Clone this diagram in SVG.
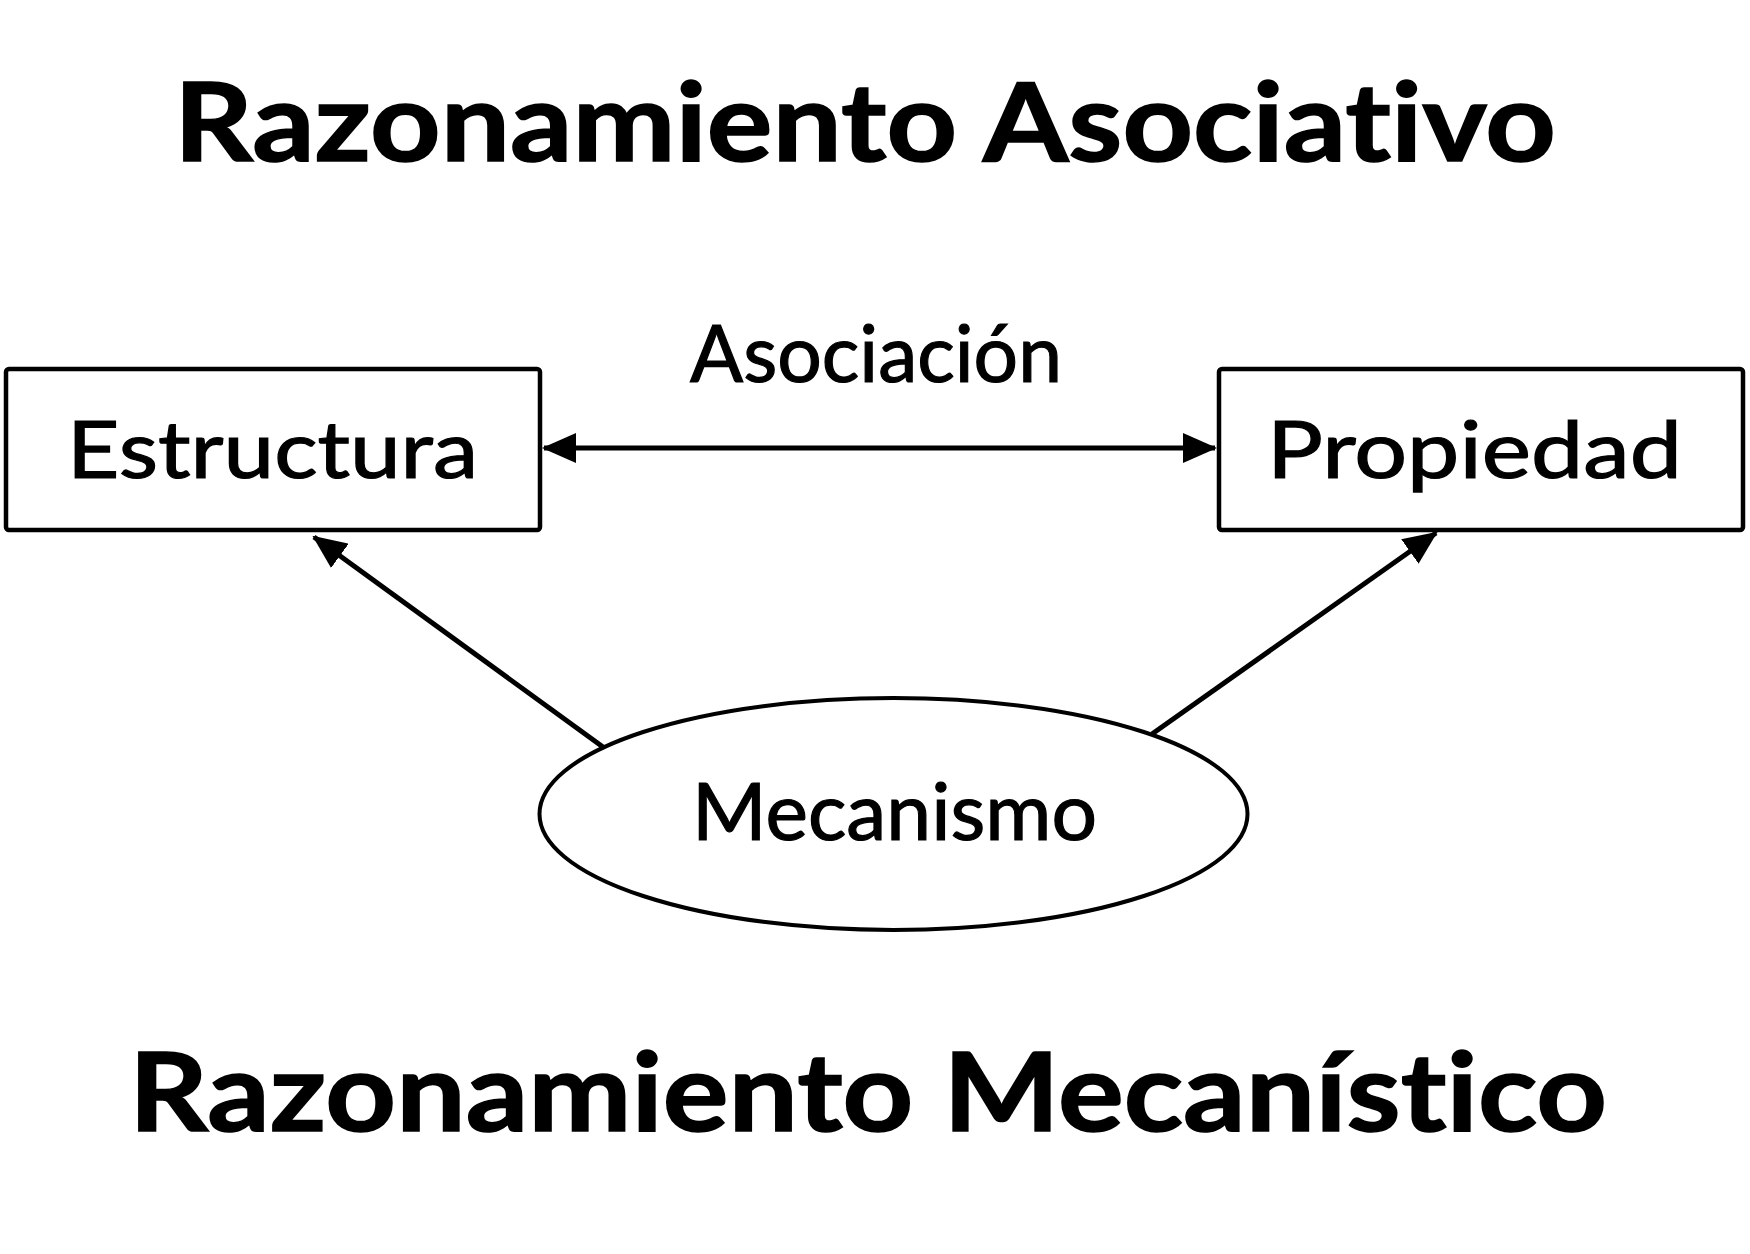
<svg xmlns="http://www.w3.org/2000/svg" width="1750" height="1254" viewBox="0 0 1750 1254">
  <style>
    text { font-variant-ligatures: none; font-feature-settings: "liga" 0, "dlig" 0; }
    .title { font-family: Lato, "Liberation Sans", sans-serif; font-weight: bold; font-size: 110px; fill: #000; stroke: #000; stroke-width: 1.5; }
    .label { font-family: Lato, "Liberation Sans", sans-serif; font-size: 80px; fill: #000; stroke: #000; stroke-width: 1.2; }
    .node { fill: #fff; stroke: #000; stroke-width: 4.5; }
    .conn { fill: none; stroke: #000; stroke-width: 5; }
  </style>
  <defs>
    <marker id="arrow" markerUnits="userSpaceOnUse" markerWidth="34" markerHeight="30" refX="32" refY="15" orient="auto-start-reverse">
      <path d="M0,0 L34,15 L0,30 z" fill="#000"/>
    </marker>
  </defs>
  <rect width="1750" height="1254" fill="#fff"/>

  <text class="title" x="174" y="161" textLength="1382" lengthAdjust="spacingAndGlyphs">Razonamiento Asociativo</text>

  <g id="estructura">
    <rect class="node" x="6" y="369" width="534" height="161" rx="3"/>
    <text class="label" x="67" y="478" textLength="411" lengthAdjust="spacingAndGlyphs">Estructura</text>
  </g>

  <g id="propiedad">
    <rect class="node" x="1219" y="369" width="524" height="161" rx="3"/>
    <text class="label" x="1267" y="478" textLength="415" lengthAdjust="spacingAndGlyphs">Propiedad</text>
  </g>

  <g id="mecanismo">
    <ellipse class="node" cx="893.5" cy="814" rx="354" ry="116" style="stroke-width:4"/>
    <text class="label" x="692" y="840" textLength="405" lengthAdjust="spacingAndGlyphs">Mecanismo</text>
  </g>

  <g id="connectors">
    <line class="conn" x1="544" y1="448" x2="1215" y2="448" marker-start="url(#arrow)" marker-end="url(#arrow)"/>
    <text class="label" x="690" y="382" font-size="74" textLength="372" lengthAdjust="spacingAndGlyphs">Asociación</text>
    <line class="conn" x1="603" y1="747" x2="314" y2="537" marker-end="url(#arrow)"/>
    <line class="conn" x1="1152" y1="734" x2="1436" y2="533" marker-end="url(#arrow)"/>
  </g>

  <text class="title" x="129" y="1131" textLength="1478" lengthAdjust="spacingAndGlyphs">Razonamiento Mecanístico</text>
</svg>
